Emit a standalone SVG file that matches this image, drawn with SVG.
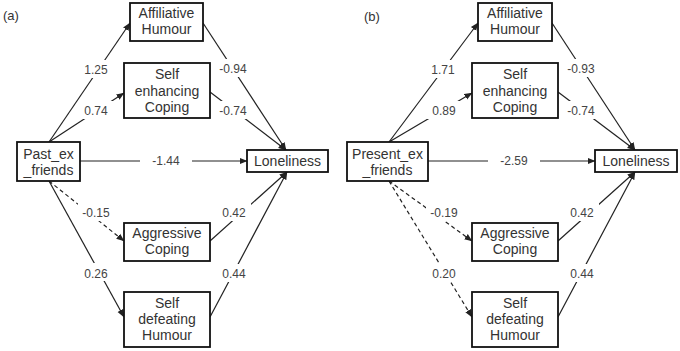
<svg xmlns="http://www.w3.org/2000/svg" width="680" height="351" viewBox="0 0 680 351">
<defs>
<marker id="ah" markerUnits="userSpaceOnUse" markerWidth="8" markerHeight="8" viewBox="0 0 8 8" refX="7.5" refY="4" orient="auto">
<path d="M0,0.8 L8,4 L0,7.2 Z" fill="#222"/>
</marker>
<style>
.box{fill:#fff;stroke:#111;stroke-width:1.8}
.t{font-family:"Liberation Sans",Arial,sans-serif;font-size:14px;fill:#333;text-anchor:middle}
.l{font-family:"Liberation Sans",Arial,sans-serif;font-size:12px;fill:#444;text-anchor:middle}
.p{font-family:"Liberation Sans",Arial,sans-serif;font-size:13px;fill:#333}
.c{stroke:#222;stroke-width:1.2;fill:none;marker-end:url(#ah)}
.d{stroke-dasharray:4 3}
.n{stroke:#222;stroke-width:1.2;fill:none}
.bg{fill:#fff}
</style>
</defs>
<rect width="680" height="351" fill="#fff"/>
<g id="connectors">
<!-- panel a -->
<line class="c" x1="49" y1="142" x2="130" y2="23"/>
<line class="c" x1="49" y1="142" x2="124" y2="93"/>
<line class="c" x1="203" y1="23" x2="286" y2="150"/>
<line class="c" x1="210" y1="92" x2="286" y2="150"/>
<line class="c" x1="80" y1="161" x2="247" y2="161"/>
<line class="c d" x1="49" y1="181" x2="124" y2="241"/>
<line class="c" x1="49" y1="181" x2="124" y2="317"/>
<line class="c" x1="210" y1="241" x2="287" y2="172"/>
<line class="c" x1="210" y1="317" x2="287" y2="172"/>
<!-- panel b -->
<line class="c" x1="389" y1="142" x2="478" y2="23"/>
<line class="c" x1="389" y1="142" x2="472" y2="93"/>
<line class="c" x1="552" y1="23" x2="635" y2="150"/>
<line class="c" x1="558" y1="92" x2="635" y2="150"/>
<line class="c" x1="428" y1="161" x2="595" y2="161"/>
<line class="c d" x1="389" y1="181" x2="472" y2="241"/>
<line class="c d" x1="389" y1="181" x2="472" y2="317"/>
<line class="c" x1="558" y1="241" x2="635" y2="172"/>
<line class="c" x1="558" y1="317" x2="635" y2="172"/>
<!-- labels panel a -->
<rect class="bg" x="80" y="60" width="34" height="18"/><text class="l" x="96" y="73.5">1.25</text>
<rect class="bg" x="80" y="101" width="34" height="18"/><text class="l" x="96" y="114.5">0.74</text>
<rect class="bg" x="215" y="59" width="36" height="18"/><text class="l" x="233" y="72.5">-0.94</text>
<rect class="bg" x="215" y="101" width="36" height="18"/><text class="l" x="233" y="114.5">-0.74</text>
<rect class="bg" x="140" y="152" width="52" height="18"/><text class="l" x="166" y="164.5">-1.44</text>
<rect class="bg" x="78" y="203" width="36" height="18"/><text class="l" x="96" y="216.5">-0.15</text>
<rect class="bg" x="79" y="263" width="34" height="18"/><text class="l" x="96" y="277.5">0.26</text>
<rect class="bg" x="217" y="203" width="34" height="18"/><text class="l" x="234" y="216.5">0.42</text>
<rect class="bg" x="217" y="264" width="34" height="18"/><text class="l" x="234" y="277.5">0.44</text>
<!-- labels panel b -->
<rect class="bg" x="426" y="60" width="34" height="18"/><text class="l" x="443" y="73.5">1.71</text>
<rect class="bg" x="427" y="101" width="34" height="18"/><text class="l" x="444" y="114.5">0.89</text>
<rect class="bg" x="563" y="59" width="36" height="18"/><text class="l" x="581" y="72.5">-0.93</text>
<rect class="bg" x="563" y="101" width="36" height="18"/><text class="l" x="581" y="114.5">-0.74</text>
<rect class="bg" x="488" y="152" width="52" height="18"/><text class="l" x="514" y="164.5">-2.59</text>
<rect class="bg" x="426" y="203" width="36" height="18"/><text class="l" x="444" y="216.5">-0.19</text>
<rect class="bg" x="427" y="263" width="34" height="18"/><text class="l" x="444" y="277.5">0.20</text>
<rect class="bg" x="565" y="203" width="34" height="18"/><text class="l" x="582" y="216.5">0.42</text>
<rect class="bg" x="565" y="264" width="34" height="18"/><text class="l" x="582" y="277.5">0.44</text>
</g>
<text class="p" x="3" y="20">(a)</text>
<text class="p" x="364" y="21">(b)</text>
<g id="a_affiliative"><rect class="box" x="130" y="3" width="73" height="38"/><text class="t" x="166.5" y="18">Affiliative</text><text class="t" x="166.5" y="34">Humour</text></g>
<g id="a_selfenh"><rect class="box" x="124" y="63" width="86" height="55"/><text class="t" x="167" y="79">Self</text><text class="t" x="167" y="95.5">enhancing</text><text class="t" x="167" y="112">Coping</text></g>
<g id="a_past"><rect class="box" x="17" y="142" width="63" height="39"/><text class="t" x="48.5" y="159">Past_ex</text><text class="t" x="48.5" y="175">_friends</text></g>
<g id="a_lonely"><rect class="box" x="247" y="150" width="81" height="22"/><text class="t" x="287.5" y="166">Loneliness</text></g>
<g id="a_aggr"><rect class="box" x="124" y="223" width="86" height="38"/><text class="t" x="167" y="238">Aggressive</text><text class="t" x="167" y="254">Coping</text></g>
<g id="a_selfdef"><rect class="box" x="124" y="292" width="86" height="55"/><text class="t" x="167" y="308">Self</text><text class="t" x="167" y="324">defeating</text><text class="t" x="167" y="340">Humour</text></g>
<g id="b_affiliative"><rect class="box" x="478" y="3" width="74" height="38"/><text class="t" x="515" y="18">Affiliative</text><text class="t" x="515" y="34">Humour</text></g>
<g id="b_selfenh"><rect class="box" x="472" y="63" width="86" height="55"/><text class="t" x="515" y="79">Self</text><text class="t" x="515" y="95.5">enhancing</text><text class="t" x="515" y="112">Coping</text></g>
<g id="b_present"><rect class="box" x="347" y="142" width="81" height="39"/><text class="t" x="387.5" y="159">Present_ex</text><text class="t" x="387.5" y="175">_friends</text></g>
<g id="b_lonely"><rect class="box" x="595" y="150" width="82" height="22"/><text class="t" x="636" y="166">Loneliness</text></g>
<g id="b_aggr"><rect class="box" x="472" y="223" width="86" height="38"/><text class="t" x="515" y="238">Aggressive</text><text class="t" x="515" y="254">Coping</text></g>
<g id="b_selfdef"><rect class="box" x="472" y="292" width="86" height="55"/><text class="t" x="515" y="308">Self</text><text class="t" x="515" y="324">defeating</text><text class="t" x="515" y="340">Humour</text></g>
</svg>
